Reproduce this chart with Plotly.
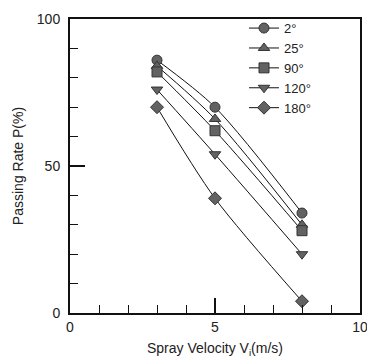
import plotly.graph_objects as go

# Spray velocity (m/s) at which passing rate was measured
velocity = [3, 5, 8]

# Passing rate P (%) for each spray angle
angles = ["2°", "25°", "90°", "120°", "180°"]
rate_2 = [86, 70, 34]
rate_25 = [84, 66, 30]
rate_90 = [82, 62, 28]
rate_120 = [76, 54, 20]
rate_180 = [70, 39, 4]

series = [rate_2, rate_25, rate_90, rate_120, rate_180]
symbols = ["circle", "triangle-up", "square", "triangle-down", "diamond"]

fig = go.Figure()
for name, vals, sym in zip(angles, series, symbols):
    fig.add_trace(go.Scatter(
        x=velocity, y=vals, name=name,
        mode="lines+markers",
        line=dict(color="#111111", width=1, shape="spline", smoothing=0.8),
        marker=dict(symbol=sym, size=10, color="#626262",
                    line=dict(color="#333333", width=1)),
    ))

font = "Liberation Sans, Arial, sans-serif"
axis_common = dict(
    showline=True, linecolor="#111111", linewidth=2, mirror=True,
    showgrid=False, zeroline=False, automargin=False,
    ticklabeloverflow="allow",
    ticks="inside", ticklen=15, tickwidth=1.5, tickcolor="#111111",
    tickfont=dict(family=font, size=14, color="#222222"),
)

fig.update_layout(
    width=367, height=361,
    margin=dict(l=70, r=7, t=19, b=48, autoexpand=False),
    paper_bgcolor="white", plot_bgcolor="white",
    showlegend=True,
    legend=dict(
        x=0.6, y=1.02, xanchor="left", yanchor="top",
        bgcolor="rgba(0,0,0,0)", borderwidth=0,
        font=dict(family=font, size=13, color="#222222"),
        tracegroupgap=0,
    ),
    xaxis=dict(
        range=[0, 10], tick0=0, dtick=5,
        minor=dict(ticks="inside", ticklen=8, dtick=1, tickwidth=1, tickcolor="#111111"),
        title=dict(text="Spray Velocity V<sub>i</sub>(m/s)", standoff=9,
                   font=dict(family=font, size=14, color="#222222")),
        **axis_common,
    ),
    yaxis=dict(
        range=[0, 100], tick0=0, dtick=50, ticklabelstandoff=5,
        minor=dict(ticks="inside", ticklen=8, dtick=10, tickwidth=1, tickcolor="#111111"),
        title=dict(text="Passing Rate P(%)", standoff=10,
                   font=dict(family=font, size=14, color="#222222")),
        **axis_common,
    ),
)

fig.write_html("out.html")
